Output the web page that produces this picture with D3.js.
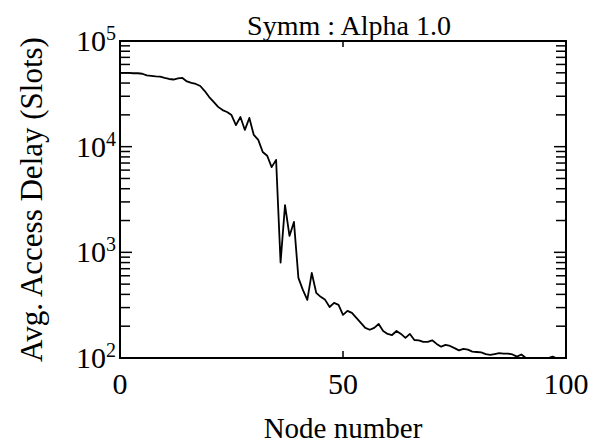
<!DOCTYPE html>
<html>
<head>
<meta charset="utf-8">
<script src="https://cdn.jsdelivr.net/npm/d3@7"></script>
<style>
  body { margin: 0; background: #fff; }
  text { font-family: "Liberation Serif", "DejaVu Serif", serif; fill: #000; }
</style>
</head>
<body>
<svg id="chart" width="598" height="444"></svg>
<script>
// Node index 0..100 and average access delay
const nodes = d3.range(0, 101);
const delay = [
  50000, 50000, 50000, 49500, 49500, 49000, 47200, 46700, 46200, 46000,
  44700, 43700, 43200, 44200, 44700, 41400, 40100, 39200, 37500, 33600,
  29500, 26500, 23800, 22200, 21300, 19900, 16000, 19100, 14400, 18700,
  12900, 11600, 8900, 8200, 6400, 7500, 800, 2800, 1430, 1940,
  573, 441, 355, 638, 413, 379, 355, 304, 332, 318,
  256, 279, 267, 240, 215, 193, 185, 193, 210, 180,
  169, 165, 180, 169, 155, 169, 148, 147, 142, 142,
  147, 136, 128, 133, 130, 124, 118, 122, 120, 115,
  114, 113, 109, 107, 109, 111, 110, 110, 108, 103,
  108, 100, 98, 99, 98, 99, 100, 103, 99, 98, 100
];
const xTicks = [0, 50, 100];
const yDecades = [100, 1000, 10000, 100000];

const title = "Symm : Alpha 1.0";
const xLabel = "Node number";
const yLabel = "Avg. Access Delay (Slots)";

const svg = d3.select("#chart");
const m = { left: 120, right: 566, top: 41, bottom: 358 };

const x = d3.scaleLinear().domain([0, 100]).range([m.left, m.right]);
const y = d3.scaleLog().domain([100, 100000]).range([m.bottom, m.top]);

// clip so values under 10^2 sit on the frame
svg.append("clipPath").attr("id", "clip")
  .append("rect")
  .attr("x", m.left).attr("y", m.top)
  .attr("width", m.right - m.left).attr("height", m.bottom - m.top);

const line = d3.line()
  .x((d, i) => x(nodes[i]))
  .y((d) => y(d));

svg.append("path")
  .datum(delay)
  .attr("clip-path", "url(#clip)")
  .attr("fill", "none")
  .attr("stroke", "#000")
  .attr("stroke-width", 1.8)
  .attr("stroke-linejoin", "round")
  .attr("d", line);

// frame
svg.append("rect")
  .attr("x", m.left).attr("y", m.top)
  .attr("width", m.right - m.left).attr("height", m.bottom - m.top)
  .attr("fill", "none")
  .attr("stroke", "#000")
  .attr("stroke-width", 2);

// y ticks, both sides, pointing in
const yTickVals = y.ticks();
const isMajor = (v) => yDecades.includes(v);
const ticks = svg.append("g").attr("stroke", "#000").attr("stroke-width", 1.5);
ticks.selectAll(".yl").data(yTickVals).join("line")
  .attr("x1", m.left).attr("x2", (d) => m.left + (isMajor(d) ? 12 : 10))
  .attr("y1", (d) => y(d)).attr("y2", (d) => y(d));
ticks.selectAll(".yr").data(yTickVals).join("line")
  .attr("x1", m.right).attr("x2", (d) => m.right - (isMajor(d) ? 12 : 10))
  .attr("y1", (d) => y(d)).attr("y2", (d) => y(d));

// x ticks, bottom and top
ticks.selectAll(".xb").data(xTicks).join("line")
  .attr("x1", (d) => x(d)).attr("x2", (d) => x(d))
  .attr("y1", m.bottom).attr("y2", m.bottom - 7);
ticks.selectAll(".xt").data(xTicks).join("line")
  .attr("x1", (d) => x(d)).attr("x2", (d) => x(d))
  .attr("y1", m.top).attr("y2", m.top + 6);

// y tick labels: 10 with superscript exponent
const yl = svg.append("g").selectAll("text").data(yDecades).join("text")
  .attr("x", 116)
  .attr("y", (d) => y(d) + 10)
  .attr("text-anchor", "end")
  .attr("font-size", 30);
yl.append("tspan").text("10");
yl.append("tspan")
  .attr("font-size", 20)
  .attr("dy", -11)
  .text((d) => Math.round(Math.log10(d)));

// x tick labels
svg.append("g").selectAll("text").data(xTicks).join("text")
  .attr("x", (d) => x(d))
  .attr("y", 394)
  .attr("text-anchor", "middle")
  .attr("font-size", 30)
  .text((d) => d);

// titles
svg.append("text")
  .attr("x", 349).attr("y", 35)
  .attr("text-anchor", "middle")
  .attr("font-size", 28)
  .text(title);

svg.append("text")
  .attr("x", (m.left + m.right) / 2).attr("y", 438)
  .attr("text-anchor", "middle")
  .attr("font-size", 29)
  .text(xLabel);

svg.append("text")
  .attr("transform", `translate(42,${(m.top + m.bottom) / 2}) rotate(-90)`)
  .attr("text-anchor", "middle")
  .attr("font-size", 31)
  .text(yLabel);
</script>
</body>
</html>
